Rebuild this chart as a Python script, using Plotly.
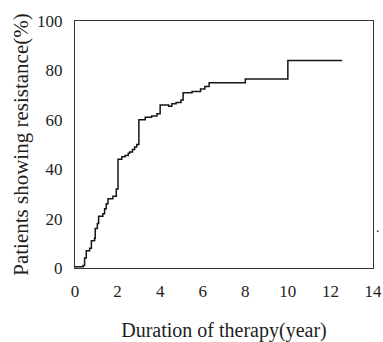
import plotly.graph_objects as go

years = [0, 0.38, 0.45, 0.53, 0.69, 0.77, 0.92, 0.95, 1.05, 1.11,
         1.31, 1.39, 1.47, 1.55, 1.78, 1.94, 2.02, 2.2, 2.35, 2.5,
         2.57, 2.7, 2.8, 2.9, 3.0, 3.3, 3.6, 3.85, 4.0, 4.4,
         4.55, 4.75, 4.98, 5.08, 5.5, 5.9, 6.1, 6.3, 8.0, 10.0,
         12.55]
resistance = [0.5, 1, 4, 7, 8, 11, 12, 16, 18, 21,
              22, 24, 26, 28, 29, 32, 44, 45, 45.5, 46.5,
              47, 48, 49, 50, 60, 61, 61.5, 62.5, 66, 65.5,
              66.5, 67, 68, 71, 71.5, 72.5, 73.5, 75, 76.5, 84,
              84]
x_ticks = [0, 2, 4, 6, 8, 10, 12, 14]
y_ticks = [0, 20, 40, 60, 80, 100]

FONT = "Liberation Serif, Times New Roman, serif"
INK = "#1e1e1e"

fig = go.Figure()
fig.add_trace(go.Scatter(
    x=years, y=resistance, mode="lines", line_shape="hv",
    line=dict(color="#151515", width=1.5), showlegend=False,
))

fig.update_layout(
    width=383, height=342,
    margin=dict(l=75, r=10, t=21, b=74),
    plot_bgcolor="white", paper_bgcolor="white",
    font=dict(family=FONT, color=INK, size=17),
    xaxis=dict(range=[0, 14], tickvals=x_ticks, showgrid=False, zeroline=False,
               showline=True, mirror=True, linecolor="#333", linewidth=1.3,
               ticks="", ticklabelstandoff=7, tickfont=dict(size=17), automargin=False,
               title=dict(text="Duration of therapy(year)", font=dict(size=20), standoff=28)),
    yaxis=dict(range=[0, 100], tickvals=y_ticks, showgrid=False, zeroline=False,
               showline=True, mirror=True, linecolor="#333", linewidth=1.3,
               ticks="", ticklabelstandoff=8, tickfont=dict(size=17), automargin=False,
               title=dict(text="Patients showing resistance(%)", font=dict(size=21), standoff=2)),
)
fig.add_annotation(xref="paper", yref="paper", x=1.005, y=0.125, text=".",
                   showarrow=False, font=dict(size=14, color=INK), xanchor="left")

fig.write_html("out.html", config={"displayModeBar": False},
               post_script="document.body.style.margin='0';document.body.style.padding='0';")
